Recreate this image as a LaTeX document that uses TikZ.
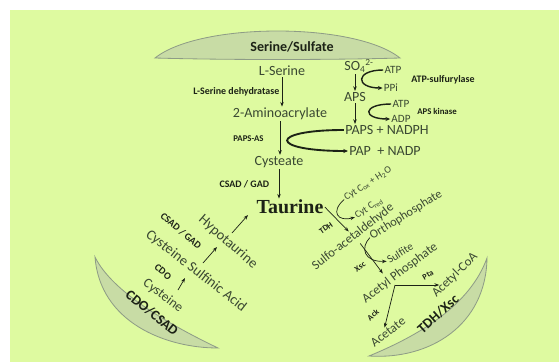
\documentclass[tikz,border=0pt]{standalone}
\usepackage{fontspec}
\setmainfont{Carlito}
\newfontfamily\taufont{Liberation Serif}
\usetikzlibrary{arrows.meta,calc,positioning}
\definecolor{bggreen}{HTML}{DEFAA0}
\definecolor{capfill}{HTML}{C8DCA5}
\definecolor{capline}{HTML}{8E9C86}
\definecolor{ink}{HTML}{3A4832}
\definecolor{dark}{HTML}{1C2216}

\begin{document}
\begin{tikzpicture}[x=0.03cm,y=-0.03cm,
  every node/.style={text=ink,inner sep=1pt},
  met/.style={font=\fontsize{12}{14}\selectfont},
  metl/.style={font=\fontsize{12.3}{14}\selectfont},
  metr/.style={font=\fontsize{11}{13}\selectfont},
  enz/.style={font=\fontsize{8.5}{10}\selectfont\bfseries,text=dark},
  enzs/.style={font=\fontsize{7}{8}\selectfont\bfseries,text=dark},
  cof/.style={font=\fontsize{9.5}{11}\selectfont},
  cyt/.style={font=\fontsize{8.5}{10}\selectfont},
  grp/.style={font=\fontsize{12}{14}\selectfont\bfseries,text=dark},
  arr/.style={-{Stealth[length=4pt,width=3pt]},draw=dark,line width=0.6pt},
  hook/.style={-{Stealth[length=4pt,width=3.5pt]},draw=dark,line width=1.2pt},
  lens/.style={fill=capfill,draw=capline,line width=0.7pt}]
  \useasboundingbox (0,0) rectangle (559,362);
  \fill[bggreen] (10,10) rectangle (559,362);
  % group caps
  \draw[lens] (155,58) .. controls (200,22) and (355,22) .. (400,58) .. controls (330,60) and (225,60) .. cycle;
  \draw[lens] (95,257) .. controls (100,322) and (165,348) .. (218,348) .. controls (170,325) and (112,292) .. cycle;
  \draw[lens] (487,258) .. controls (486,325) and (430,360) .. (369,356) .. controls (420,335) and (470,305) .. cycle;
  \node[grp] (ss) at (292,47) {Serine/Sulfate};
  \node[grp,rotate=-39] (cdocsad) at (152,313) {CDO/CSAD};
  \node[grp,rotate=42] (tdhxsc) at (438,314) {TDH/Xsc};
  % serine route
  \node[met] (ser) at (282,71) {L-Serine};
  \node[met] (amino) at (280,114) {2-Aminoacrylate};
  \node[met] (cyst) at (279,162) {Cysteate};
  \node[font=\taufont\fontsize{17}{19}\selectfont\bfseries,text=dark] (tau) at (290,207) {Taurine};
  \draw[arr] (ser.south) -- node[enz,left=1pt] {L-Serine dehydratase} (ser.south |- amino.north);
  \draw[arr] (amino.south) -- node[enz,left=4.5mm,font=\fontsize{7.5}{9}\selectfont\bfseries] {PAPS-AS} (amino.south |- cyst.north);
  \draw[arr] (cyst.south) -- node[enz,left=2.5mm] {CSAD / GAD} (cyst.south |- tau.north);
  % sulfate route
  \node[met] (so4) at (359,66) {SO\textsubscript{4}\textsuperscript{2-}};
  \node[met] (aps) at (355,97) {APS};
  \node[met] (paps) at (387,130) {PAPS + NADPH};
  \node[met] (pap) at (385,151) {PAP\ \ + NADP};
  \node[cof] (atpa) at (393,70) {ATP};
  \node[cof] (ppi) at (391,88) {PPi};
  \node[enz] (atps) at (443,80) {ATP-sulfurylase};
  \node[cof] (atpb) at (401,104) {ATP};
  \node[cof] (adp) at (401,119) {ADP};
  \node[enz,font=\fontsize{7.5}{9}\selectfont\bfseries] (apsk) at (437,111) {APS kinase};
  \draw[arr] (so4.south -| aps.north) -- (aps.north);
  \draw[arr] (aps.south) -- (aps.south |- paps.north);
  \draw[hook] (atpa.west) .. controls (355,70) and (355,88) .. (ppi.west);
  \draw[hook] (atpb.west) .. controls (362,104) and (362,119) .. (adp.west);
  \draw[hook,line width=1.6pt] (paps.west) .. controls (268,130) and (268,151) .. (pap.west);
  % cysteine route
  \node[metl,rotate=-41] (hypo) at (228,242) {Hypotaurine};
  \node[enz,rotate=-40] (csad) at (181,231) {CSAD / GAD};
  \node[metl,rotate=-38] (csa) at (196,271) {Cysteine Sulfinic Acid};
  \node[enz,rotate=-40] (cdo) at (163,272) {CDO};
  \node[font=\fontsize{11.5}{13}\selectfont,rotate=-37] (cys) at (163,296) {Cysteine};
  \draw[arr] ([shift={(15,-6)}]cys.center) -- ([shift={(-11,7)}]csa.center);
  \draw[arr] ([shift={(7,-8)}]csa.center) -- ([shift={(-11,5)}]hypo.center);
  \draw[arr] ([shift={(4,-9)}]hypo.center) -- ([shift={(-42,8)}]tau.center);
  % degradation route
  \node[cyt,rotate=33] (cytox) at (368,184) {Cyt C\textsubscript{ox} + H\textsubscript{2}O};
  \node[cyt,rotate=33] (cytred) at (369,208) {Cyt C\textsubscript{red}};
  \node[enzs,rotate=35] (tdh) at (326,228) {TDH};
  \node[metr,rotate=38] (sulfo) at (353,237) {Sulfo-acetaldehyde};
  \node[font=\fontsize{10.5}{12}\selectfont,rotate=32] (ortho) at (406,215) {Orthophosphate};
  \node[font=\fontsize{9.5}{11}\selectfont,rotate=32] (sulfite) at (400,253) {Sulfite};
  \node[enzs,rotate=35] (xsc) at (360,267) {Xsc};
  \node[metr,rotate=37] (acp) at (400,273) {Acetyl Phosphate};
  \node[enzs,rotate=30] (pta) at (428,275) {Pta};
  \node[metr,rotate=44] (acoa) at (455,275) {Acetyl-CoA};
  \node[enzs,rotate=40] (ack) at (373,315) {Ack};
  \node[metr,rotate=38] (acet) at (388,332) {Acetate};
  \coordinate (fork) at (395,285);
  \draw[arr] (tau.east) -- (sulfo.north);
  \draw[arr] (cytox.west) .. controls (330,212) and (338,222) .. (cytred.west);
  \draw[arr] ([shift={(3,1)}]sulfo.south) -- ([shift={(-13,6)}]acp.north);
  \draw[arr] (ortho.west) .. controls (360,248) and (364,262) .. (sulfite.west);
  \draw[arr] (fork) -- ([xshift=5]fork -| acoa.west);
  \draw[arr] (fork) -- (acet.north);
\end{tikzpicture}
\end{document}
